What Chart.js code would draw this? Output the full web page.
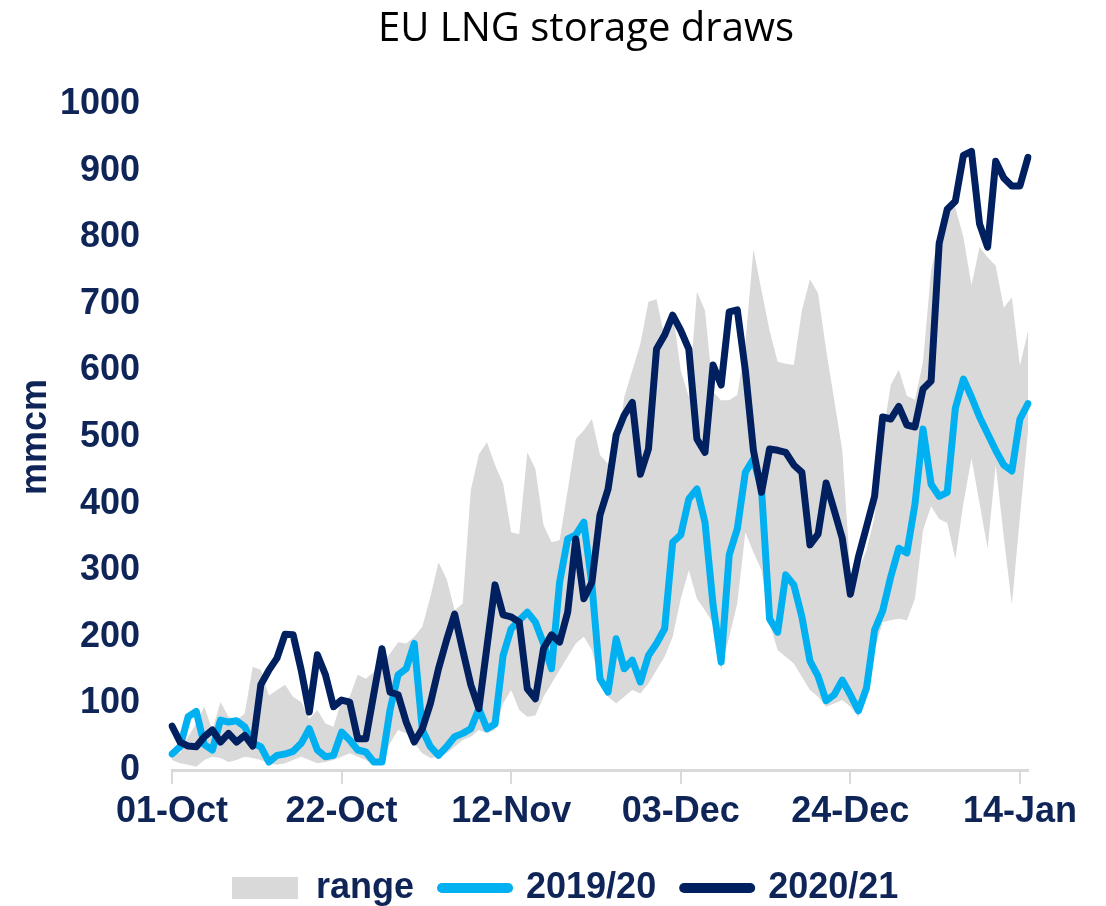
<!DOCTYPE html>
<html>
<head>
<meta charset="utf-8">
<script src="https://cdn.jsdelivr.net/npm/chart.js@4"></script>
<style>
  body { margin: 0; background: #fff; }
  canvas { display: block; }
</style>
</head>
<body>
<canvas id="myChart" width="1106" height="906"></canvas>
<script>
// daily draws, 01-Oct .. 16-Jan (mmcm)
const draws2021 = [
  66, 42, 36, 35, 50, 60, 42, 55, 42, 52,
  36, 128, 150, 168, 204, 203, 150, 87, 173, 143,
  95, 105, 102, 47, 47, 115, 182, 117, 113, 72,
  42, 62, 100, 152, 195, 234, 180, 128, 92, 185,
  278, 233, 230, 222, 122, 107, 182, 203, 192, 237,
  347, 257, 282, 383, 422, 503, 533, 552, 444, 482,
  632, 653, 683, 660, 632, 497, 477, 608, 578, 688,
  691, 600, 480, 417, 482, 480, 477, 458, 447, 338,
  354, 431, 390, 348, 264, 320, 365, 411, 530, 527,
  546, 518, 515, 572, 584, 791, 842, 854, 923, 929,
  820, 785, 914, 889, 877, 877, 920
];

const draws1920 = [
  24, 35, 80, 88, 38, 30, 75, 72, 74, 65,
  40, 35, 12, 22, 24, 28, 40, 62, 30, 20,
  22, 57, 45, 30, 27, 12, 12, 90, 143, 152,
  190, 60, 35, 22, 35, 50, 55, 62, 92, 62,
  69, 172, 212, 225, 237, 222, 190, 152, 282, 347,
  353, 372, 278, 137, 117, 197, 152, 165, 132, 172,
  190, 212, 342, 353, 407, 422, 372, 248, 162, 323,
  362, 447, 467, 422, 227, 207, 293, 278, 230, 164,
  141, 104, 113, 135, 113, 89, 123, 210, 239, 290,
  333, 326, 399, 512, 429, 411, 417, 543, 587, 560,
  530, 505, 480, 458, 449, 527, 550
];

const rangeHigh = [
  30, 25, 50, 70, 95, 60, 102, 80, 75, 85,
  155, 150, 112, 120, 128, 110, 102, 77, 90, 70,
  65, 105, 110, 143, 137, 147, 160, 175, 192, 190,
  200, 215, 260, 312, 287, 240, 250, 420, 474, 492,
  458, 430, 357, 354, 477, 452, 368, 342, 345, 420,
  497, 510, 527, 473, 460, 470, 560, 600, 640, 703,
  707, 650, 690, 600, 560, 718, 690, 568, 555, 555,
  563, 640, 782, 720, 660, 613, 610, 608, 690, 737,
  716, 631, 556, 480, 296, 300, 330, 380, 500, 578,
  601, 562, 556, 613, 750, 803, 842, 845, 800, 728,
  785, 770, 757, 694, 710, 607, 659
];

const rangeLow = [
  15, 10, 8, 5, 15, 20, 18, 12, 15, 20,
  18, 15, 10, 8, 10, 15, 20, 15, 10, 12,
  15, 20, 25, 20, 15, 8, 10, 40, 60, 55,
  40, 25, 18, 20, 25, 35, 45, 50, 60, 55,
  60, 100, 120, 90, 80, 82, 110, 130, 150, 170,
  190, 200, 180, 130, 110, 100, 110, 120, 115, 130,
  150, 170, 200, 257, 300, 257, 240, 220, 150, 200,
  250, 357, 327, 300, 220, 180, 170, 160, 140, 120,
  110, 95, 100, 105, 95, 80, 110, 180, 222, 225,
  227, 225, 257, 360, 396, 377, 371, 317, 400, 468,
  400, 333, 458, 350, 248, 380, 509
];

const monthNames = ['Jan', 'Feb', 'Mar', 'Apr', 'May', 'Jun', 'Jul', 'Aug', 'Sep', 'Oct', 'Nov', 'Dec'];
const labels = draws2021.map((v, i) => {
  const d = new Date(2020, 9, 1 + i);
  return String(d.getDate()).padStart(2, '0') + '-' + monthNames[d.getMonth()];
});

const navy = '#002060';
const lightBlue = '#00b0f0';
const grey = '#d9d9d9';
const textColor = '#0f2557';
const tickEvery = 21;
const boldFont = { family: 'Liberation Sans', size: 36, weight: 'bold' };

// nudge title and legend to where the original puts them
const layoutShift = {
  id: 'layoutShift',
  afterLayout(chart) {
    const t = chart.titleBlock;
    t.left -= 14;
    t.right -= 14;
    const lg = chart.legend;
    const w = lg.right - lg.left;
    lg.left = 204;
    lg.right = lg.left + w;
  }
};

const ctx = document.getElementById('myChart').getContext('2d');

new Chart(ctx, {
  type: 'line',
  data: {
    labels,
    datasets: [
      {
        label: 'low',
        data: rangeLow,
        borderWidth: 0,
        pointRadius: 0,
        fill: false,
        order: 3
      },
      {
        label: 'range',
        data: rangeHigh,
        borderWidth: 0,
        borderColor: grey,
        backgroundColor: grey,
        pointRadius: 0,
        fill: '-1',
        order: 2
      },
      {
        label: '2019/20',
        data: draws1920,
        borderColor: lightBlue,
        backgroundColor: lightBlue,
        borderWidth: 7,
        borderJoinStyle: 'round',
        borderCapStyle: 'round',
        pointRadius: 0,
        fill: false,
        order: 1
      },
      {
        label: '2020/21',
        data: draws2021,
        borderColor: navy,
        backgroundColor: navy,
        borderWidth: 7,
        borderJoinStyle: 'round',
        borderCapStyle: 'round',
        pointRadius: 0,
        fill: false,
        order: 0
      }
    ]
  },
  plugins: [layoutShift],
  options: {
    responsive: false,
    animation: false,
    devicePixelRatio: 1,
    layout: { padding: { left: 14, right: 78, top: 0, bottom: -10 } },
    plugins: {
      title: {
        display: true,
        fullSize: false,
        text: 'EU LNG storage draws',
        color: '#000',
        font: { family: 'Open Sans', size: 40, weight: 'normal' },
        padding: { top: 6, bottom: 50 }
      },
      legend: {
        position: 'bottom',
        align: 'start',
        labels: {
          usePointStyle: true,
          pointStyleWidth: 66,
          boxHeight: 22,
          padding: 28,
          color: textColor,
          font: boldFont,
          filter: (item) => item.datasetIndex !== 0,
          sort: (a, b) => a.datasetIndex - b.datasetIndex,
          generateLabels: (chart) => chart.data.datasets.map((ds, i) => {
            const isRange = i === 1;
            return {
              text: ds.label,
              datasetIndex: i,
              fillStyle: isRange ? grey : ds.borderColor,
              strokeStyle: isRange ? grey : ds.borderColor,
              lineWidth: isRange ? 0 : 10,
              lineCap: 'round',
              pointStyle: isRange ? 'rect' : 'line',
              fontColor: textColor,
              hidden: false
            };
          })
        }
      },
      tooltip: { enabled: false }
    },
    scales: {
      x: {
        afterFit: (scale) => { scale.height = 72; },
        grid: {
          display: true,
          drawOnChartArea: false,
          drawTicks: true,
          tickLength: 14,
          lineWidth: 2,
          color: (c) => (c.index % tickEvery === 0 ? grey : 'rgba(0,0,0,0)')
        },
        border: { display: true, color: grey, width: 3 },
        ticks: {
          autoSkip: false,
          maxRotation: 0,
          padding: 6,
          color: textColor,
          font: boldFont,
          callback: (value, index) => (index % tickEvery === 0 ? labels[index] : '')
        }
      },
      y: {
        min: 0,
        max: 1000,
        afterFit: (scale) => { scale.width = 158; },
        grid: { display: false, drawTicks: false },
        border: { display: false },
        ticks: {
          stepSize: 100,
          padding: 32,
          color: textColor,
          font: boldFont,
          callback: (value) => String(value)
        },
        title: {
          display: true,
          text: 'mmcm',
          color: textColor,
          font: { family: 'Liberation Sans', size: 36, weight: 'bold' },
          padding: { top: 0, bottom: 0 }
        }
      }
    }
  }
});
</script>
</body>
</html>
